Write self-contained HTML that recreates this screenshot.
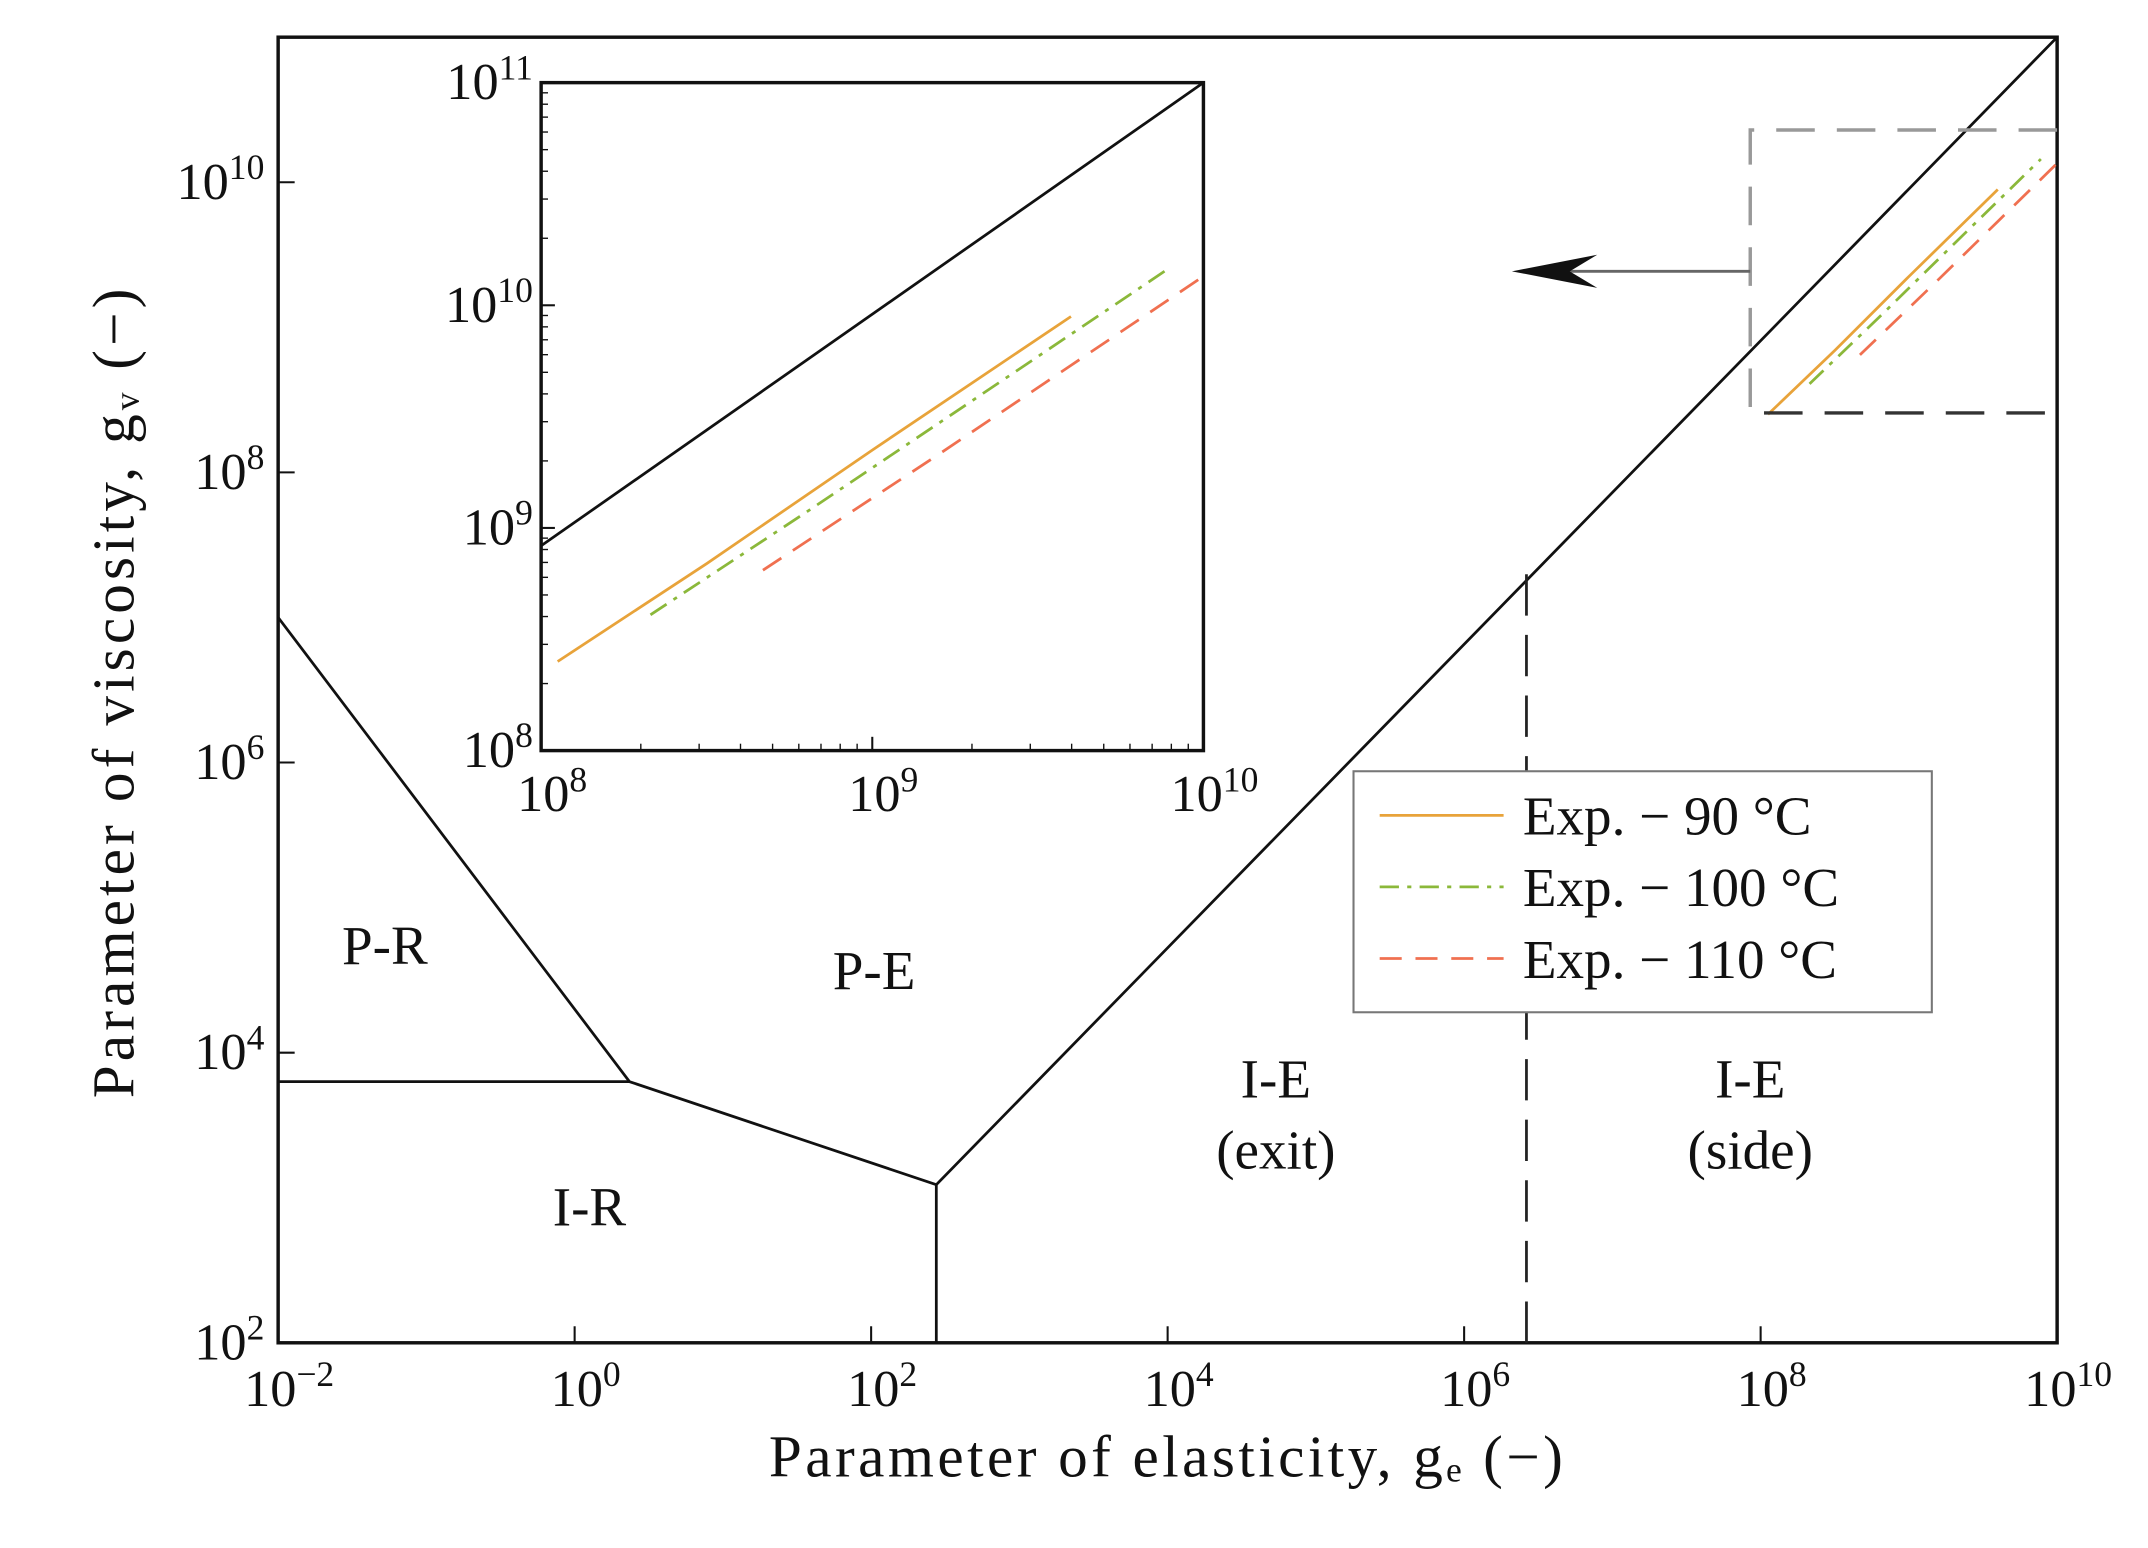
<!DOCTYPE html>
<html><head><meta charset="utf-8"><style>
html,body{margin:0;padding:0;background:#fff;}
svg{display:block;}
text{font-family:"Liberation Serif",serif;fill:#111;}
</style></head><body>
<svg id="chart" width="2148" height="1548" viewBox="0 0 1560 1124" preserveAspectRatio="none" xmlns="http://www.w3.org/2000/svg"></svg>
<script>
// ---- data ----
const mainXTicks = [-2, 0, 2, 4, 6, 8, 10];
const mainYTicks = [2, 4, 6, 8, 10];
const boundaryUpperX = [-2, 0.37, 2.44, 10];
const boundaryUpperY = [7, 3.8, 3.09, 11];
const boundaryHorizX = [-2, 0.37];
const boundaryHorizY = [3.8, 3.8];
const boundaryVertX = [2.44, 2.44];
const boundaryVertY = [2, 3.09];
const exitSideX = [6.42, 6.42];
const exitSideY = [2, 7.35];
const seriesNames = ["Exp.  \u2212  90 \u00b0C", "Exp.  \u2212  100 \u00b0C", "Exp.  \u2212  110 \u00b0C"];
const s90X = [8.05, 8.5, 9.0, 9.6];
const s90Y = [8.40, 8.84, 9.35, 9.95];
const s100X = [8.33, 8.8, 9.3, 9.89];
const s100Y = [8.61, 9.07, 9.57, 10.16];
const s110X = [8.67, 9.2, 9.6, 10.0];
const s110Y = [8.81, 9.33, 9.73, 10.13];
const insetBlackX = [8, 10];
const insetBlackY = [8.92, 11];
const regionLabels = [["P-R", -1.28, 4.61], ["P-E", 2.02, 4.44], ["I-R", 0.1, 2.81], ["I-E", 4.73, 3.69], ["(exit)", 4.73, 3.2], ["I-E", 7.93, 3.69], ["(side)", 7.93, 3.2]];
// ---- layout ----
const NS = "http://www.w3.org/2000/svg";
const svg = document.getElementById('chart');
const M = {l:202, r:1494, t:27, b:975, x0:-2, x1:10, y0:2, y1:11};
const I = {l:393, r:874, t:60, b:545, x0:8, x1:10, y0:8, y1:11};
function sx(A, v){return A.l + (v - A.x0) / (A.x1 - A.x0) * (A.r - A.l);}
function sy(A, v){return A.b - (v - A.y0) / (A.y1 - A.y0) * (A.b - A.t);}
function el(tag, attrs, parent){const e=document.createElementNS(NS,tag);for(const k in attrs)e.setAttribute(k,attrs[k]);(parent||svg).appendChild(e);return e;}
function poly(A, xs, ys, style, name, parent){
  const pts = xs.map((x,i)=>sx(A,x).toFixed(1)+','+sy(A,ys[i]).toFixed(1)).join(' ');
  const p = el('polyline', Object.assign({points:pts, fill:'none'}, style), parent);
  
  
  return p;
}
function tickLabel(x, y, exp, size, anchor, name){
  const t = el('text', {x:x, y:y, 'font-size':size, 'text-anchor':anchor});
  
  
  t.appendChild(document.createTextNode('10'));
  const ts = el('tspan', {dy:-size*0.38, 'font-size':size*0.68}, t);
  ts.textContent = String(exp).replace('-', '\u2212');
  return t;
}
const black = {stroke:'#111', 'stroke-width':2};
const c90 = {stroke:'#e8a33a', 'stroke-width':2};
const c100 = {stroke:'#8bb83a', 'stroke-width':2, 'stroke-dasharray':'14 6 3 6'};
const c110 = {stroke:'#f07050', 'stroke-width':2, 'stroke-dasharray':'16 10'};
// main axes
const frame = el('rect', {x:M.l, y:M.t, width:M.r-M.l, height:M.b-M.t, fill:'none', stroke:'#111', 'stroke-width':2.5});


mainXTicks.forEach(v=>{
  const x = sx(M,v);
  const t = el('line', {x1:x, x2:x, y1:M.b, y2:M.b-12, stroke:'#111', 'stroke-width':1.5});
  
  
  tickLabel(x+8, M.b+46, v, 38, 'middle', 'x-tick-label');
});
mainYTicks.forEach(v=>{
  const y = sy(M,v);
  const t = el('line', {x1:M.l, x2:M.l+12, y1:y, y2:y, stroke:'#111', 'stroke-width':1.5});
  
  
  tickLabel(M.l-10, y+12, v, 38, 'end', 'y-tick-label');
});
const xt = el('text', {x:848, y:1072, 'font-size':43, 'text-anchor':'middle', 'letter-spacing':2.5});


xt.textContent = 'Parameter of elasticity, g\u2091 (\u2212)';
const yt = el('text', {x:0, y:0, 'font-size':43, 'text-anchor':'middle', 'letter-spacing':3, transform:'translate(97,502) rotate(-90)'});


yt.textContent = 'Parameter of viscosity, g\u1d65 (\u2212)';
// boundaries
poly(M, boundaryUpperX, boundaryUpperY, black, 'regime-boundary-upper');
poly(M, boundaryHorizX, boundaryHorizY, black, 'regime-boundary-pr-ir');
poly(M, boundaryVertX, boundaryVertY, black, 'regime-boundary-ir-ie');
poly(M, exitSideX, exitSideY, {stroke:'#222','stroke-width':2,'stroke-dasharray':'30 14'}, 'exit-side-boundary');
regionLabels.forEach(r=>{
  const t = el('text', {x:sx(M,r[1]), y:sy(M,r[2]), 'font-size':40, 'text-anchor':'middle'});
  
  
  t.textContent = r[0];
});
// data in main
poly(M, s90X, s90Y, c90, 'series-90c-main');
poly(M, s100X, s100Y, c100, 'series-100c-main');
poly(M, s110X, s110Y, c110, 'series-110c-main');
// zoom box
const bx0 = sx(M,7.93), bx1 = sx(M,10), by0 = sy(M,10.36), by1 = sy(M,8.41);
const zb = el('path', {d:`M${bx1},${by0} L${bx0},${by0} L${bx0},${by1}`, fill:'none', stroke:'#999', 'stroke-width':2.5, 'stroke-dasharray':'28 16'});


const zb2 = el('line', {x1:bx0+10, x2:bx1, y1:by1, y2:by1, stroke:'#333', 'stroke-width':2.5, 'stroke-dasharray':'28 16'});


const ar = el('line', {x1:bx0, x2:1120, y1:197, y2:197, stroke:'#666', 'stroke-width':2});


const ah = el('path', {d:'M1098,197 L1160,185 L1140,197 L1160,209 Z', fill:'#111'});


// inset
const ig = el('g', {});


const ibg = el('rect', {x:I.l, y:I.t, width:I.r-I.l, height:I.b-I.t, fill:'#fff', stroke:'#111', 'stroke-width':2.5}, ig);


for(let d=8; d<10; d++){for(let k=2;k<=9;k++){
  const x = sx(I, d+Math.log10(k));
  const t = el('line', {x1:x, x2:x, y1:I.b, y2:I.b-5, stroke:'#111','stroke-width':1}, ig);
  
  
}}
for(let d=8; d<11; d++){for(let k=2;k<=9;k++){
  const y = sy(I, d+Math.log10(k));
  const t = el('line', {x1:I.l, x2:I.l+5, y1:y, y2:y, stroke:'#111','stroke-width':1}, ig);
  
  
}}
[8,9,10].forEach(v=>{
  const x = sx(I,v);
  const t = el('line', {x1:x, x2:x, y1:I.b, y2:I.b-10, stroke:'#111','stroke-width':1.5}, ig);
  
  
  tickLabel(x+8, I.b+44, v, 38, 'middle', 'inset-x-tick-label');
});
[8,9,10,11].forEach(v=>{
  const y = sy(I,v);
  const t = el('line', {x1:I.l, x2:I.l+10, y1:y, y2:y, stroke:'#111','stroke-width':1.5}, ig);
  
  
  tickLabel(I.l-6, y+12, v, 38, 'end', 'inset-y-tick-label');
});
poly(I, insetBlackX, insetBlackY, black, 'inset-regime-boundary', ig);
poly(I, s90X, s90Y, c90, 'series-90c-inset', ig);
poly(I, s100X, s100Y, c100, 'series-100c-inset', ig);
poly(I, s110X, s110Y, c110, 'series-110c-inset', ig);
// legend
const lg = el('g', {});


const lb = el('rect', {x:983, y:560, width:420, height:175, fill:'#fff', stroke:'#777', 'stroke-width':1.5}, lg);


const styles = [c90, c100, c110];
seriesNames.forEach((n,i)=>{
  const y = 592 + i*52;
  const ln = el('line', Object.assign({x1:1002, x2:1092, y1:y, y2:y}, styles[i]), lg);
  
  
  const t = el('text', {x:1106, y:y+14, 'font-size':40}, lg);
  
  
  t.setAttribute('xml:space', 'preserve');
  t.textContent = n;
});
</script>
</body></html>
